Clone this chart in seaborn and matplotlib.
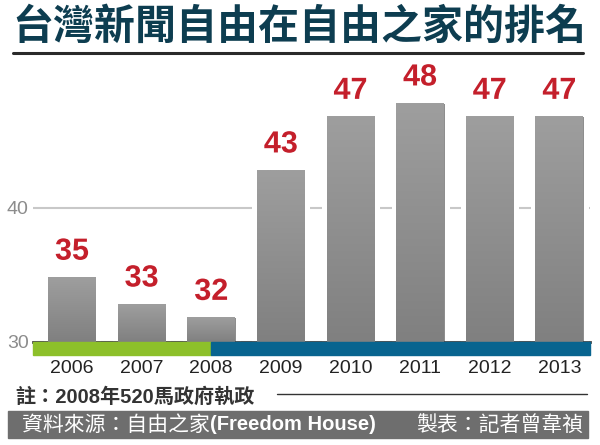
import numpy as np
import pandas as pd
import seaborn as sns
import matplotlib.pyplot as plt
import matplotlib.patheffects as pe
from matplotlib.patches import Rectangle
from matplotlib.lines import Line2D

sns.set_theme()
sns.set_style("white")
plt.rcParams['font.family'] = ['Liberation Sans', 'Noto Sans CJK TC', 'DejaVu Sans']

years = ['2006', '2007', '2008', '2009', '2010', '2011', '2012', '2013']
rank = [35, 33, 32, 43, 47, 48, 47, 47]
yticks = [30, 40]
title = '台灣新聞自由在自由之家的排名'
note = '註：2008年520馬政府執政'
source_cn = '資料來源：自由之家'
source_en = '(Freedom House)'
author = '製表：記者曾韋禎'

df = pd.DataFrame({'year': years, 'rank': rank})

W, H = 600, 445
fig = plt.figure(figsize=(W / 100, H / 100), dpi=100)
fig.patch.set_facecolor('white')
ax = fig.add_axes([33 / W, (H - 342) / H, (590 - 33) / W, (342 - 60.6) / H])

sns.barplot(data=df, x='year', y='rank', color='#8e8e8e', width=0.76,
            edgecolor='white', linewidth=3.6, saturation=1, ax=ax, zorder=2)

# gradient inside bars
grad = np.linspace(0, 1, 100).reshape(-1, 1)
cmap = sns.blend_palette(['#808080', '#9e9e9e'], as_cmap=True)
for p in ax.patches:
    x0, w, h = p.get_x(), p.get_width(), p.get_height()
    p.set_path_effects([pe.SimplePatchShadow(offset=(0, 0), shadow_rgbFace='#cccccc',
                                             alpha=0.6), pe.Normal()])
    ax.imshow(grad, cmap=cmap, origin='lower', aspect='auto', zorder=3,
              extent=(x0 + 0.036, x0 + w - 0.036, 30, h - 0.19))
ax.set_xlim(-0.56, 7.44)
ax.set_ylim(30, 51)

# value labels
for i, v in enumerate(rank):
    ax.annotate(str(v), (i, v), xytext=(0, 6), textcoords='offset points',
                ha='center', va='bottom', fontsize=22, fontweight='bold',
                color='#c41f2b', zorder=5,
                path_effects=[pe.withStroke(linewidth=5, foreground='white')])

ax.set_yticks(yticks)
ax.yaxis.grid(True, color='#c8c8c8', linewidth=1.5)
ax.set_axisbelow(True)
for s in ['top', 'right', 'left']:
    ax.spines[s].set_visible(False)
ax.spines['bottom'].set_color('#444444')
ax.spines['bottom'].set_linewidth(2)
ax.set_xlabel('')
ax.set_ylabel('')
ax.tick_params(axis='x', length=0, pad=13, labelsize=14, labelcolor='#222222')
ax.tick_params(axis='y', length=0, pad=3, labelsize=14, labelcolor='#8c8c8c')

# green / blue band under the axis
tr = ax.get_xaxis_transform()
ax.add_patch(Rectangle((-0.56, -0.046), 2.56, 0.046, transform=tr,
                       color='#8dc02a', clip_on=False, zorder=4))
ax.add_patch(Rectangle((2, -0.046), 5.44, 0.046, transform=tr,
                       color='#08648f', clip_on=False, zorder=4))

# title
fig.text(299 / W, 1 - 27 / H, title, ha='center', va='center', fontsize=29.5,
         fontweight='heavy', color='#0d3d50',
         family=['Noto Sans CJK TC'])
fig.add_artist(Line2D([13 / W, 583 / W], [1 - 53 / H, 1 - 53 / H],
                      color='#2a2a2a', linewidth=2.2))

# note
fig.text(15 / W, 1 - 397 / H, note, ha='left', va='center', fontsize=14.5,
         fontweight='bold', color='#333333')
fig.add_artist(Line2D([277 / W, 587 / W], [1 - 394 / H, 1 - 394 / H],
                      color='#333333', linewidth=1))

# footer
fig.add_artist(Rectangle((8 / W, 1 - 438 / H), 580 / W, 27 / H,
                         transform=fig.transFigure, color='#6e6e6e'))
fig.text(22 / W, 1 - 424.5 / H, source_cn, ha='left', va='center', fontsize=15,
         color='white', family=['Noto Sans CJK TC'])
fig.text(210 / W, 1 - 424.5 / H, source_en, ha='left', va='center', fontsize=14.5,
         fontweight='bold', color='white')
fig.text(583 / W, 1 - 424.5 / H, author, ha='right', va='center', fontsize=15,
         color='white', family=['Noto Sans CJK TC'])

fig.savefig('out.png', dpi=100)
